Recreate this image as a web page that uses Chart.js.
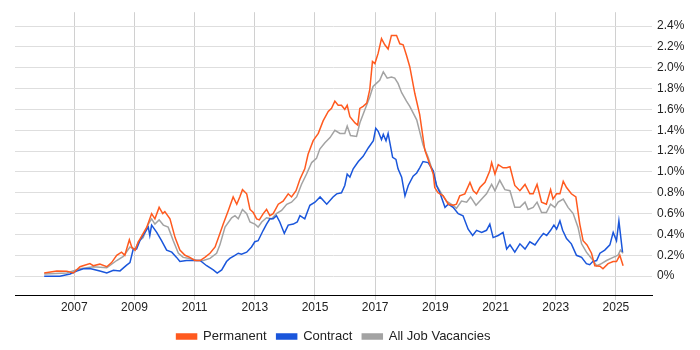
<!DOCTYPE html>
<html><head><meta charset="utf-8">
<script src="https://cdn.jsdelivr.net/npm/chart.js@4/dist/chart.umd.min.js"></script>
<style>html,body{margin:0;padding:0;background:#fff}#wrap{width:700px;height:350px;position:relative}</style>
</head><body><div id="wrap"><canvas id="c"></canvas></div>
<script>
const seriesNames = ['Permanent', 'Contract', 'All Job Vacancies'];
const xTickYears = [2007, 2009, 2011, 2013, 2015, 2017, 2019, 2021, 2023, 2025];
const yTickValues = [0, 0.2, 0.4, 0.6, 0.8, 1.0, 1.2, 1.4, 1.6, 1.8, 2.0, 2.2, 2.4];

const permYears = [2006.0,2006.42,2006.75,2006.97,2007.19,2007.52,2007.63,2007.85,2008.08,2008.24,2008.41,2008.57,2008.68,2008.83,2008.91,2009.02,2009.13,2009.41,2009.57,2009.68,2009.82,2009.94,2010.01,2010.18,2010.35,2010.51,2010.68,2010.84,2011.01,2011.18,2011.34,2011.51,2011.68,2011.84,2011.95,2012.12,2012.28,2012.40,2012.50,2012.59,2012.73,2012.84,2012.95,2013.06,2013.15,2013.28,2013.39,2013.50,2013.61,2013.78,2013.94,2014.11,2014.22,2014.37,2014.50,2014.66,2014.77,2014.94,2015.11,2015.27,2015.44,2015.55,2015.66,2015.77,2015.88,2015.99,2016.07,2016.16,2016.33,2016.42,2016.49,2016.60,2016.72,2016.82,2016.91,2016.99,2017.10,2017.21,2017.32,2017.43,2017.54,2017.71,2017.82,2017.93,2018.04,2018.15,2018.32,2018.48,2018.65,2018.82,2018.93,2018.98,2019.09,2019.26,2019.43,2019.59,2019.70,2019.81,2019.98,2020.15,2020.26,2020.37,2020.48,2020.65,2020.81,2020.87,2020.98,2021.09,2021.25,2021.37,2021.48,2021.64,2021.81,2021.98,2022.14,2022.25,2022.38,2022.53,2022.69,2022.83,2022.91,2023.03,2023.14,2023.25,2023.36,2023.52,2023.67,2023.80,2023.91,2024.04,2024.19,2024.30,2024.47,2024.57,2024.74,2024.91,2025.02,2025.13,2025.24];
const permValues = [0.03,0.05,0.048,0.03,0.09,0.12,0.10,0.115,0.09,0.13,0.20,0.23,0.20,0.35,0.28,0.25,0.33,0.47,0.60,0.55,0.66,0.60,0.62,0.55,0.37,0.25,0.20,0.18,0.15,0.15,0.18,0.22,0.28,0.41,0.50,0.63,0.76,0.69,0.76,0.83,0.79,0.64,0.61,0.55,0.54,0.60,0.64,0.58,0.60,0.69,0.72,0.79,0.76,0.82,0.93,1.03,1.17,1.30,1.37,1.49,1.58,1.61,1.68,1.64,1.64,1.60,1.64,1.53,1.47,1.45,1.61,1.63,1.66,1.79,2.06,2.04,2.14,2.28,2.22,2.18,2.31,2.31,2.23,2.22,2.12,2.01,1.75,1.55,1.21,1.07,0.98,0.85,0.80,0.77,0.69,0.68,0.69,0.77,0.79,0.90,0.82,0.79,0.85,0.90,1.01,1.09,0.98,1.07,1.04,1.04,1.05,0.87,0.82,0.88,0.79,0.79,0.88,0.71,0.69,0.83,0.74,0.79,0.79,0.91,0.85,0.79,0.76,0.50,0.34,0.30,0.22,0.10,0.095,0.07,0.12,0.14,0.14,0.20,0.10];

const contYears = [2006.0,2006.52,2006.86,2007.08,2007.30,2007.52,2007.85,2008.08,2008.30,2008.52,2008.74,2008.85,2008.96,2009.07,2009.18,2009.35,2009.46,2009.51,2009.57,2009.74,2009.90,2010.07,2010.24,2010.40,2010.51,2010.73,2010.95,2011.18,2011.40,2011.62,2011.75,2011.90,2012.06,2012.17,2012.34,2012.45,2012.56,2012.73,2012.89,2013.00,2013.11,2013.28,2013.39,2013.50,2013.61,2013.72,2013.83,2013.98,2014.11,2014.28,2014.41,2014.50,2014.66,2014.83,2015.00,2015.17,2015.39,2015.60,2015.72,2015.88,2015.99,2016.07,2016.16,2016.27,2016.44,2016.60,2016.77,2016.94,2017.02,2017.10,2017.21,2017.27,2017.36,2017.43,2017.58,2017.69,2017.76,2017.88,2017.99,2018.10,2018.26,2018.38,2018.48,2018.59,2018.76,2018.93,2019.04,2019.15,2019.32,2019.43,2019.59,2019.76,2019.92,2020.09,2020.24,2020.37,2020.54,2020.70,2020.81,2020.92,2021.09,2021.25,2021.37,2021.48,2021.64,2021.81,2021.98,2022.14,2022.31,2022.48,2022.59,2022.70,2022.83,2022.94,2023.03,2023.14,2023.23,2023.36,2023.52,2023.69,2023.86,2024.02,2024.13,2024.23,2024.36,2024.47,2024.63,2024.80,2024.91,2025.02,2025.10,2025.22];
const contValues = [0.0,0.0,0.02,0.048,0.07,0.073,0.05,0.03,0.057,0.05,0.105,0.13,0.26,0.26,0.34,0.42,0.47,0.39,0.49,0.42,0.34,0.25,0.23,0.18,0.14,0.15,0.15,0.15,0.10,0.06,0.03,0.06,0.14,0.17,0.20,0.22,0.21,0.23,0.28,0.33,0.34,0.44,0.50,0.55,0.55,0.58,0.52,0.41,0.49,0.50,0.52,0.58,0.55,0.68,0.71,0.76,0.69,0.76,0.79,0.80,0.87,0.98,0.95,1.03,1.10,1.15,1.23,1.30,1.42,1.39,1.31,1.36,1.30,1.37,1.14,1.12,1.03,0.95,0.77,0.87,0.96,0.99,1.04,1.10,1.09,1.01,0.87,0.80,0.66,0.69,0.66,0.60,0.58,0.45,0.39,0.44,0.42,0.44,0.50,0.37,0.39,0.42,0.26,0.30,0.23,0.31,0.26,0.33,0.30,0.37,0.41,0.39,0.44,0.49,0.45,0.53,0.44,0.36,0.31,0.20,0.18,0.12,0.11,0.14,0.15,0.22,0.25,0.30,0.42,0.34,0.53,0.23];

const allYears = [2006.0,2006.75,2007.19,2007.63,2008.08,2008.41,2008.63,2008.85,2009.02,2009.13,2009.29,2009.46,2009.57,2009.68,2009.82,2009.96,2010.12,2010.29,2010.46,2010.62,2010.84,2011.07,2011.29,2011.51,2011.73,2011.84,2012.01,2012.23,2012.34,2012.45,2012.59,2012.73,2012.84,2013.00,2013.11,2013.23,2013.39,2013.56,2013.72,2013.89,2014.06,2014.22,2014.39,2014.55,2014.72,2014.89,2015.05,2015.16,2015.33,2015.50,2015.66,2015.83,2015.99,2016.07,2016.18,2016.38,2016.49,2016.66,2016.82,2016.93,2017.04,2017.15,2017.27,2017.40,2017.54,2017.65,2017.76,2017.88,2018.04,2018.15,2018.38,2018.59,2018.76,2018.93,2019.04,2019.21,2019.37,2019.59,2019.70,2019.87,2020.04,2020.17,2020.35,2020.54,2020.70,2020.87,2020.98,2021.14,2021.31,2021.48,2021.64,2021.81,2021.98,2022.08,2022.25,2022.38,2022.53,2022.69,2022.83,2022.97,2023.08,2023.25,2023.41,2023.58,2023.74,2023.86,2024.02,2024.19,2024.36,2024.52,2024.69,2024.91,2025.07,2025.15,2025.24];
const allValues = [0.02,0.03,0.07,0.09,0.08,0.15,0.19,0.28,0.25,0.33,0.37,0.50,0.55,0.50,0.54,0.49,0.47,0.34,0.22,0.18,0.17,0.15,0.15,0.17,0.22,0.30,0.47,0.56,0.58,0.55,0.64,0.60,0.52,0.50,0.47,0.52,0.56,0.55,0.60,0.63,0.69,0.71,0.76,0.88,0.98,1.09,1.13,1.22,1.28,1.33,1.40,1.37,1.37,1.44,1.35,1.34,1.47,1.60,1.72,1.82,1.85,1.88,1.96,1.90,1.91,1.90,1.85,1.76,1.68,1.63,1.50,1.26,1.14,0.99,0.87,0.79,0.72,0.68,0.65,0.72,0.71,0.76,0.68,0.74,0.79,0.88,0.82,0.92,0.83,0.82,0.66,0.66,0.71,0.64,0.66,0.71,0.61,0.61,0.69,0.66,0.71,0.74,0.66,0.60,0.47,0.31,0.23,0.17,0.10,0.12,0.15,0.18,0.20,0.25,0.22];

const colors = ['#ff5a1f', '#1a56db', '#a3a3a3'];

function pts(xs, ys) { return xs.map((x, i) => ({ x: x, y: ys[i] })); }

const centerLegendOnPlot = {
  id: 'centerLegendOnPlot',
  afterLayout(chart) {
    const lg = chart.legend;
    if (lg) { lg.left = chart.chartArea.left; lg.right = chart.chartArea.right; }
  }
};

new Chart(document.getElementById('c'), {
  type: 'line',
  data: {
    datasets: [
      { label: seriesNames[0], data: pts(permYears, permValues) },
      { label: seriesNames[1], data: pts(contYears, contValues) },
      { label: seriesNames[2], data: pts(allYears, allValues) }
    ].map((d, i) => Object.assign(d, {
      borderColor: colors[i], backgroundColor: colors[i], borderWidth: 1.5,
      pointRadius: 0, tension: 0, fill: false
    }))
  },
  plugins: [centerLegendOnPlot],
  options: {
    responsive: true, maintainAspectRatio: false, animation: false,
    layout: { padding: { left: 15, right: 0, top: 10, bottom: -3 } },
    plugins: {
      tooltip: { enabled: false },
      legend: {
        position: 'bottom',
        labels: {
          boxWidth: 20, boxHeight: 5, padding: 10,
          color: '#222', font: { family: 'Liberation Sans, Arial, sans-serif', size: 13 }
        }
      }
    },
    scales: {
      x: {
        type: 'linear', min: 2005.03, max: 2026.2,
        afterBuildTicks: s => { s.ticks = xTickYears.map(v => ({ value: v })); },
        afterFit: s => { s.height = 25; },
        border: { display: true, color: '#000', width: 1 },
        grid: { color: '#d0d0d0', tickLength: 5, tickColor: '#d0d0d0' },
        ticks: { color: '#222', padding: 0, maxRotation: 0, autoSkip: false,
          font: { family: 'Liberation Sans, Arial, sans-serif', size: 12 },
          callback: v => String(v) }
      },
      y: {
        position: 'right', min: -0.181, max: 2.533,
        afterBuildTicks: s => { s.ticks = yTickValues.map(v => ({ value: v })); },
        afterFit: s => { s.width = 48; },
        border: { display: false },
        grid: { color: '#dedede', drawTicks: false },
        ticks: { color: '#222', padding: 5,
          font: { family: 'Liberation Sans, Arial, sans-serif', size: 12 },
          callback: v => (v === 0 ? '0%' : v.toFixed(1) + '%') }
      }
    }
  }
});
</script></body></html>
